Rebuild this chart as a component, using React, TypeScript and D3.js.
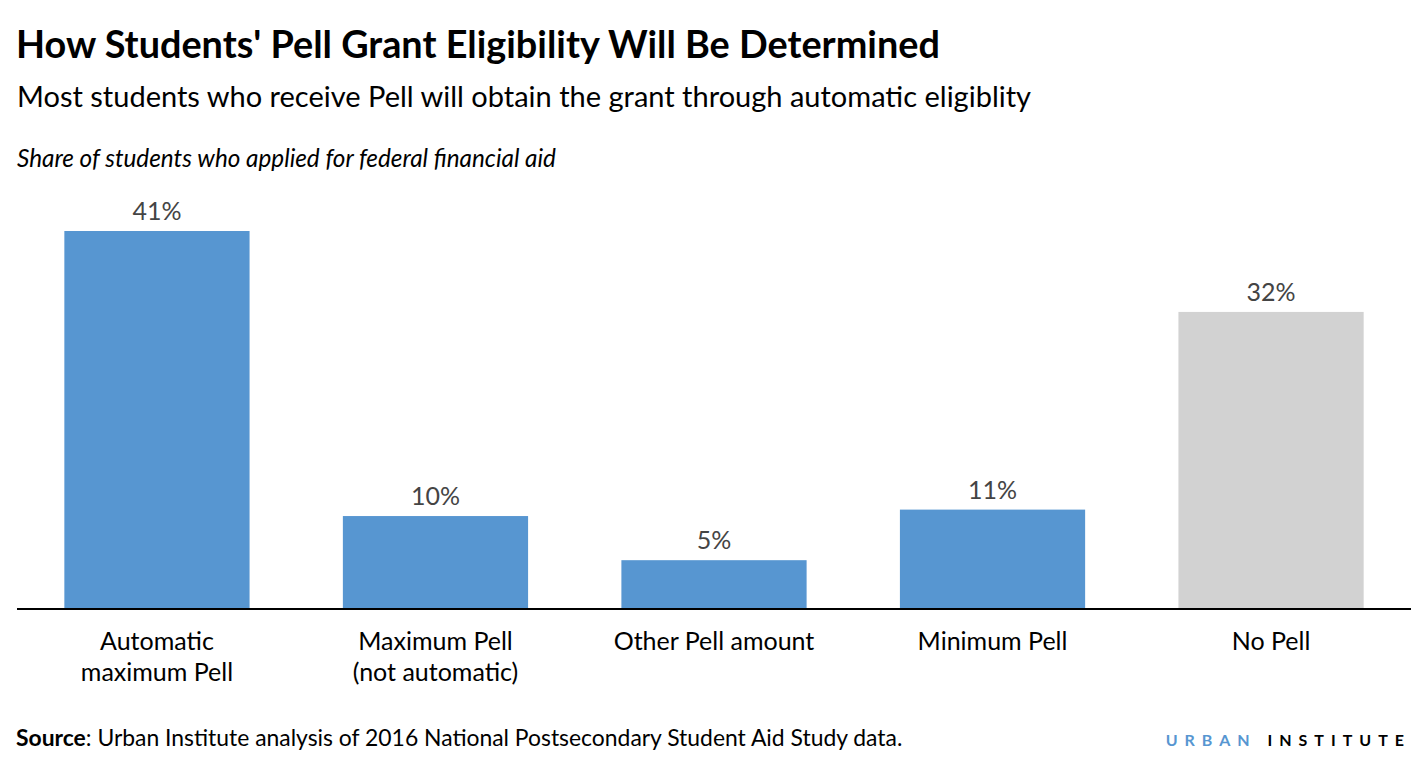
import React from "react";
import * as d3 from "d3";

const categories: string[][] = [
  ["Automatic", "maximum Pell"],
  ["Maximum Pell", "(not automatic)"],
  ["Other Pell amount"],
  ["Minimum Pell"],
  ["No Pell"],
];
const values: number[] = [41, 10, 5.2, 10.7, 32.2];
const labels: string[] = ["41%", "10%", "5%", "11%", "32%"];
const colors: string[] = ["#5796d1", "#5796d1", "#5796d1", "#5796d1", "#d2d2d2"];

const W = 1427;
const H = 758;
const FONT = "Lato, 'Open Sans', sans-serif";

export default function App() {
  const x = d3
    .scaleBand<number>()
    .domain(values.map((_, i) => i))
    .range([17, 1411])
    .paddingInner(0.335)
    .paddingOuter(0.17);
  const y = d3.scaleLinear().domain([0, 41]).range([608, 231]);

  return (
    <svg
      width={W}
      height={H}
      style={{ position: "absolute", left: 0, top: 0, background: "#fff" }}
      fontFamily={FONT}
    >
      <text x={16} y={58} fontSize={37.8} fontWeight={700} fill="#000">
        How Students' Pell Grant Eligibility Will Be Determined
      </text>
      <text x={17} y={107} fontSize={29} fill="#000">
        Most students who receive Pell will obtain the grant through automatic eligiblity
      </text>
      <text x={17} y={167} fontSize={24.3} fontStyle="italic" fill="#000">
        Share of students who applied for federal financial aid
      </text>

      {values.map((v, i) => (
        <g key={i}>
          <rect
            x={x(i)!}
            y={y(v)}
            width={x.bandwidth()}
            height={y(0) - y(v)}
            fill={colors[i]}
          />
          <text
            x={x(i)! + x.bandwidth() / 2}
            y={y(v) - 11}
            textAnchor="middle"
            fontSize={25}
            fill="#444"
          >
            {labels[i]}
          </text>
          {categories[i].map((line, j) => (
            <text
              key={j}
              x={x(i)! + x.bandwidth() / 2}
              y={650 + j * 31}
              textAnchor="middle"
              fontSize={25}
              fill="#000"
            >
              {line}
            </text>
          ))}
        </g>
      ))}

      <line x1={17} x2={1411} y1={609} y2={609} stroke="#000" strokeWidth={2} />

      <text x={16} y={746} fontSize={22.9} fill="#000">
        <tspan fontWeight={700}>Source</tspan>: Urban Institute analysis of 2016 National Postsecondary Student Aid Study data.
      </text>
      <text x={1411} y={746} fontSize={16} fontWeight={700} textAnchor="end" letterSpacing={7.0}>
        <tspan fill="#5796d1">URBAN </tspan>
        <tspan fill="#000">INSTITUTE</tspan>
      </text>
    </svg>
  );
}
